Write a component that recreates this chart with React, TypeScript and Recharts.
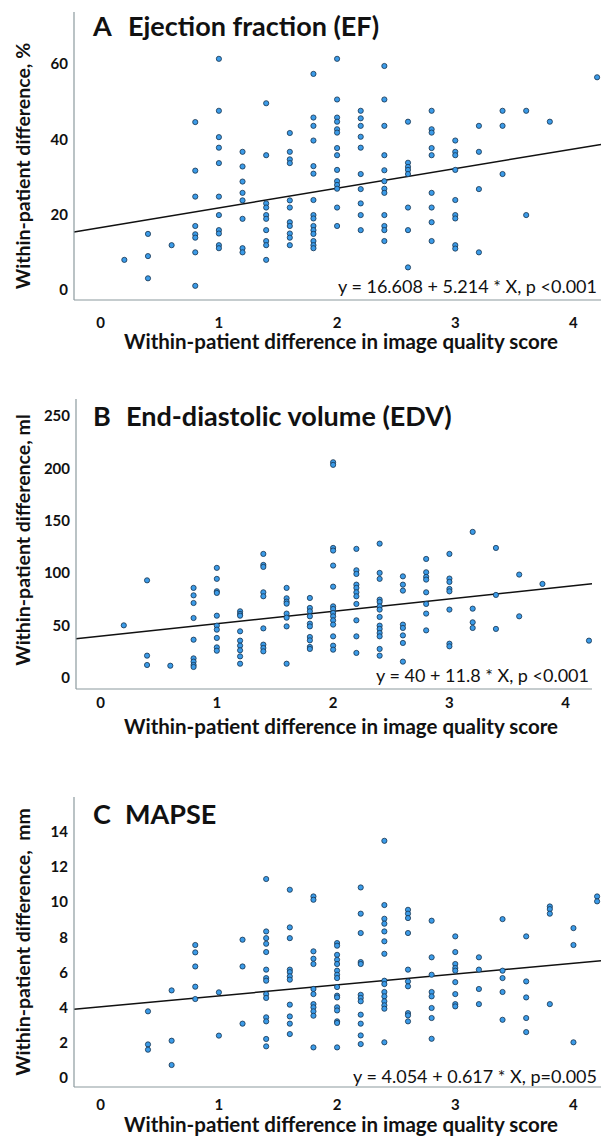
import React from 'react';
import { ScatterChart, Scatter, XAxis, YAxis, ReferenceLine } from 'recharts';

// image quality score difference (x) and the measured differences per x column
const X_TICKS = [0, 1, 2, 3, 4];

const EF_X = [0.2, 0.4, 0.6, 0.8, 1.0, 1.2, 1.4, 1.6, 1.8, 2.0, 2.2, 2.4, 2.6, 2.8, 3.0, 3.2, 3.4, 3.6, 3.8, 4.2];
const EF_Y = [
  [8.0],
  [14.9, 9.0, 3.1],
  [11.9],
  [44.6, 31.7, 24.8, 17.0, 14.8, 13.9, 10.0, 1.1],
  [61.4, 47.6, 40.6, 37.8, 33.7, 24.8, 19.9, 15.9, 15.0, 11.9, 11.1],
  [36.7, 32.8, 28.8, 25.8, 23.8, 18.9, 11.1, 10.0],
  [49.6, 35.8, 23.0, 21.9, 19.9, 18.9, 15.9, 13.0, 11.9, 8.0],
  [41.7, 36.7, 34.7, 33.7, 23.8, 21.9, 18.0, 17.0, 15.0, 13.9, 11.9],
  [57.4, 45.8, 43.6, 39.7, 32.9, 30.9, 23.9, 19.9, 19.0, 17.0, 15.9, 14.9, 13.0, 11.9, 11.1],
  [61.4, 50.6, 45.8, 44.7, 42.7, 41.8, 37.7, 35.8, 31.9, 28.9, 27.9, 26.9, 21.9, 17.0],
  [47.6, 45.6, 43.6, 40.7, 37.8, 30.8, 26.8, 23.0, 19.9, 15.9],
  [59.5, 50.6, 43.6, 35.8, 31.8, 28.9, 26.9, 25.8, 19.9, 17.0, 15.9, 13.0],
  [44.7, 33.8, 32.7, 31.9, 30.8, 21.9, 15.9, 6.0],
  [47.6, 42.7, 41.8, 37.7, 35.8, 25.8, 21.9, 18.0, 13.0],
  [39.7, 36.7, 35.8, 31.9, 23.9, 19.9, 19.0, 11.9, 11.0],
  [43.6, 36.7, 26.8, 10.0],
  [47.6, 43.6, 30.8],
  [47.6, 19.9],
  [44.7],
  [56.5],
];
const EF_TICKS = [0, 20, 40, 60];
const EF_FIT = [16.608, 5.214];

const EDV_X = [0.2, 0.4, 0.6, 0.8, 1.0, 1.2, 1.4, 1.6, 1.8, 2.0, 2.2, 2.4, 2.6, 2.8, 3.0, 3.2, 3.4, 3.6, 3.8, 4.2];
const EDV_Y = [
  [50.2],
  [93.1, 21.3, 12.4],
  [11.7],
  [85.9, 78.8, 71.5, 57.2, 36.5, 18.7, 15.6, 12.4, 10.5],
  [105.0, 94.5, 82.7, 81.1, 59.4, 49.9, 46.1, 38.2, 29.2, 26.0],
  [63.6, 61.1, 59.4, 44.5, 35.6, 30.8, 26.4, 20.6, 13.6],
  [118.3, 107.8, 105.9, 81.7, 77.9, 47.3, 31.8, 28.6, 25.4],
  [85.9, 76.0, 72.8, 70.9, 61.4, 57.5, 49.2, 13.6],
  [76.3, 66.8, 63.6, 58.8, 51.8, 49.2, 39.1, 35.9, 29.6, 27.7],
  [205.7, 203.2, 124.0, 121.5, 107.2, 87.1, 68.3, 65.8, 62.0, 58.8, 55.0, 50.9, 39.7, 30.8, 27.0],
  [123.1, 102.7, 99.2, 89.0, 85.9, 81.7, 77.9, 70.6, 55.0, 39.7, 23.9],
  [128.1, 100.2, 94.5, 74.7, 72.5, 68.3, 65.2, 58.2, 49.9, 46.8, 42.9, 39.7, 27.7, 21.3],
  [96.9, 89.0, 83.3, 50.9, 47.7, 40.6, 33.4, 15.6],
  [113.5, 100.8, 96.4, 93.8, 81.7, 70.6, 61.4, 45.4],
  [118.3, 94.8, 91.6, 84.9, 82.6, 65.2, 32.7, 30.2],
  [139.3, 66.1, 53.1, 47.7],
  [124.0, 79.2, 46.8],
  [98.6, 58.8],
  [89.7],
  [35.6],
];
const EDV_TICKS = [0, 50, 100, 150, 200, 250];
const EDV_FIT = [40, 11.8];

const MAPSE_X = [0.4, 0.6, 0.8, 1.0, 1.2, 1.4, 1.6, 1.8, 2.0, 2.2, 2.4, 2.6, 2.8, 3.0, 3.2, 3.4, 3.6, 3.8, 4.0, 4.2];
const MAPSE_Y = [
  [3.79, 1.91, 1.61],
  [4.98, 2.12, 0.74],
  [7.56, 7.14, 6.34, 5.19, 4.49],
  [4.87, 2.41],
  [7.86, 6.34, 3.09],
  [11.31, 8.33, 7.95, 7.63, 7.16, 6.16, 5.68, 5.53, 4.77, 4.55, 3.45, 3.22, 2.22, 1.8],
  [10.7, 8.56, 7.95, 6.16, 6.02, 5.78, 5.59, 4.17, 3.5, 3.09, 2.5],
  [10.32, 10.13, 7.2, 6.78, 6.48, 5.06, 4.77, 4.2, 4.02, 3.79, 3.54, 1.74],
  [7.67, 7.52, 7.0, 6.72, 6.48, 6.1, 5.87, 5.68, 5.17, 4.68, 4.58, 4.02, 3.84, 3.22, 3.13, 1.74],
  [10.83, 9.34, 8.24, 6.59, 6.48, 4.73, 4.55, 4.36, 3.6, 3.09, 2.42, 1.93],
  [13.48, 9.83, 9.05, 8.77, 8.33, 7.77, 7.06, 5.53, 5.34, 4.89, 4.64, 4.36, 4.13, 3.94, 2.03],
  [9.56, 9.34, 9.09, 8.24, 6.16, 5.49, 5.21, 3.69, 3.56, 3.22],
  [8.94, 6.86, 5.87, 4.89, 4.64, 3.98, 3.41, 2.23],
  [8.05, 7.16, 6.48, 6.25, 6.1, 5.45, 4.77, 4.2, 4.07],
  [6.86, 6.16, 5.06, 4.2],
  [9.03, 6.1, 5.68, 4.89, 3.31],
  [8.05, 5.49, 4.58, 3.41, 2.61],
  [9.75, 9.6, 9.34, 4.2],
  [8.52, 7.56, 2.03],
  [10.32, 10.04],
];
const MAPSE_TICKS = [0, 2, 4, 6, 8, 10, 12, 14];
const MAPSE_FIT = [4.054, 0.617];

const FONT = 'Lato, "Open Sans", sans-serif';
const AXIS = '#8c9a9e';
const DOT_FILL = '#3b9be8';
const DOT_STROKE = '#17324d';
const X_LABEL = 'Within-patient difference in image quality score';

const toPoints = (xs: number[], ys: number[][]) =>
  xs.flatMap((x, i) => ys[i].map((y) => ({ x, y })));

const Dot = (props: any) => (
  <circle cx={props.cx} cy={props.cy} r={2.6} fill={DOT_FILL} stroke={DOT_STROKE} strokeWidth={0.8} />
);

interface PanelProps {
  top: number;
  height: number;
  margin: { top: number; right: number; left: number; bottom: number };
  yWidth: number;
  xHeight: number;
  xTickMargin: number;
  xDomain: [number, number];
  yDomain: [number, number];
  yTicks: number[];
  points: { x: number; y: number }[];
  fit: number[];
  letter: string;
  title: string;
  titleY: number;
  titleX2: number;
  yLabel: string;
  yLabelY: number;
  xLabelY: number;
  eqX: number;
  eqY: number;
  equation: string;
}

const Panel: React.FC<PanelProps> = (p) => {
  const [a, b] = p.fit;
  const seg = [
    { x: p.xDomain[0], y: a + b * p.xDomain[0] },
    { x: p.xDomain[1], y: a + b * p.xDomain[1] },
  ];
  const tickStyle = { fill: '#111', fontSize: 15, fontWeight: 700, fontFamily: FONT };
  return (
    <div style={{ position: 'absolute', left: 0, top: p.top }}>
      <ScatterChart width={601} height={p.height} margin={p.margin}>
        <XAxis
          type="number"
          dataKey="x"
          domain={p.xDomain}
          ticks={X_TICKS}
          interval={0}
          allowDataOverflow
          tickLine={false}
          tickSize={0}
          tickMargin={p.xTickMargin}
          axisLine={{ stroke: AXIS, strokeWidth: 1.2 }}
          tick={tickStyle}
          height={p.xHeight}
        />
        <YAxis
          type="number"
          dataKey="y"
          domain={p.yDomain}
          ticks={p.yTicks}
          interval={0}
          allowDataOverflow
          tickLine={false}
          tickSize={0}
          tickMargin={6}
          axisLine={{ stroke: AXIS, strokeWidth: 1.2 }}
          tick={tickStyle}
          width={p.yWidth}
        />
        <ReferenceLine segment={seg} stroke="#111" strokeWidth={1.5} ifOverflow="visible" />
        <Scatter data={p.points} shape={<Dot />} isAnimationActive={false} />
        <text x={93} y={p.titleY} fontFamily={FONT} fontWeight={700} fontSize={27} fill="#111">
          <tspan>{p.letter}</tspan>
          <tspan x={p.titleX2}>{p.title}</tspan>
        </text>
        <text
          x={22}
          y={p.yLabelY}
          transform={`rotate(-90, 22, ${p.yLabelY})`}
          textAnchor="middle"
          dominantBaseline="central"
          fontFamily={FONT}
          fontWeight={700}
          fontSize={19.5}
          fill="#111"
          style={{ whiteSpace: 'pre' }}
        >
          {p.yLabel}
        </text>
        <text x={341} y={p.xLabelY} textAnchor="middle" fontFamily={FONT} fontWeight={700} fontSize={20.5} fill="#111">
          {X_LABEL}
        </text>
        <text x={p.eqX} y={p.eqY} textAnchor="end" fontFamily={FONT} fontSize={18} fill="#111">
          {p.equation}
        </text>
      </ScatterChart>
    </div>
  );
};

export default function App() {
  return (
    <div style={{ position: 'absolute', left: 0, top: 0, width: 601, height: 1140, background: '#fff' }}>
      <Panel
        top={0}
        height={370}
        margin={{ top: 12, right: 0, left: 0, bottom: 0 }}
        yWidth={74}
        xHeight={70}
        xTickMargin={17}
        xDomain={[-0.226, 4.233]}
        yDomain={[-2.66, 73.84]}
        yTicks={EF_TICKS}
        points={toPoints(EF_X, EF_Y)}
        fit={EF_FIT}
        letter="A"
        title="Ejection fraction (EF)"
        titleY={36}
        titleX2={128}
        yLabel="Within-patient difference, %"
        yLabelY={166}
        xLabelY={349}
        eqX={597}
        eqY={293}
        equation="y = 16.608 + 5.214 * X, p <0.001"
      />
      <Panel
        top={370}
        height={390}
        margin={{ top: 29, right: 9, left: 0, bottom: 0 }}
        yWidth={76}
        xHeight={71}
        xTickMargin={8}
        xDomain={[-0.211, 4.226]}
        yDomain={[-10.5, 266]}
        yTicks={EDV_TICKS}
        points={toPoints(EDV_X, EDV_Y)}
        fit={EDV_FIT}
        letter="B"
        title="End-diastolic volume (EDV)"
        titleY={56}
        titleX2={126}
        yLabel="Within-patient difference, ml"
        yLabelY={170}
        xLabelY={364}
        eqX={589}
        eqY={312}
        equation="y = 40 + 11.8 * X, p <0.001"
      />
      <Panel
        top={760}
        height={380}
        margin={{ top: 37, right: 0, left: 0, bottom: 0 }}
        yWidth={74}
        xHeight={53}
        xTickMargin={12}
        xDomain={[-0.226, 4.233]}
        yDomain={[-0.51, 15.97]}
        yTicks={MAPSE_TICKS}
        points={toPoints(MAPSE_X, MAPSE_Y)}
        fit={MAPSE_FIT}
        letter="C"
        title="MAPSE"
        titleY={64}
        titleX2={125}
        yLabel="Within-patient difference,  mm"
        yLabelY={182}
        xLabelY={372}
        eqX={597}
        eqY={323}
        equation="y = 4.054 + 0.617 * X, p=0.005"
      />
    </div>
  );
}
